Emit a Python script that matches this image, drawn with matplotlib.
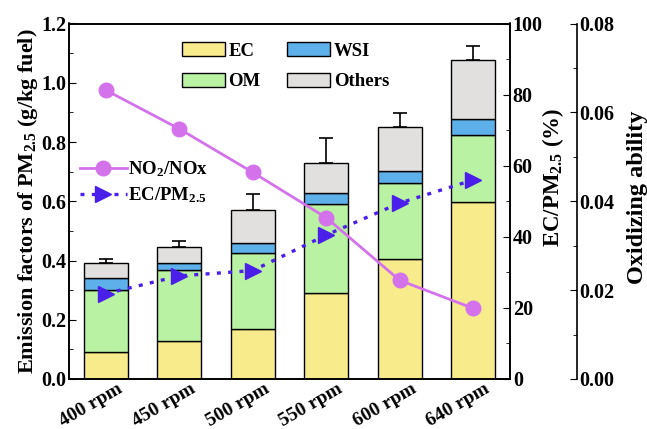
import matplotlib
matplotlib.use("Agg")
import matplotlib.pyplot as plt
import matplotlib.transforms as mtransforms
import numpy as np

# --- dados ---
categories = ["400 rpm", "450 rpm", "500 rpm", "550 rpm", "600 rpm", "640 rpm"]
ec = [0.090, 0.128, 0.170, 0.291, 0.405, 0.596]
om = [0.210, 0.239, 0.257, 0.299, 0.258, 0.228]
wsi = [0.040, 0.026, 0.033, 0.039, 0.040, 0.054]
others = [0.053, 0.052, 0.110, 0.099, 0.148, 0.198]
err = [0.012, 0.020, 0.055, 0.085, 0.046, 0.049]
ec_pm = [24.0, 29.0, 30.5, 40.5, 49.5, 56.0]          # EC/PM2.5 (%)
no2_nox = [0.0650, 0.0563, 0.0465, 0.0363, 0.0222, 0.0159]  # oxidizing ability

plt.rcParams['font.family'] = ['Liberation Serif', 'DejaVu Serif']
plt.rcParams['font.weight'] = 'bold'
plt.rcParams['axes.labelweight'] = 'bold'
plt.rcParams['mathtext.fontset'] = 'custom'
plt.rcParams['mathtext.rm'] = 'Liberation Serif:bold'
plt.rcParams['mathtext.it'] = 'Liberation Serif:bold'
plt.rcParams['mathtext.bf'] = 'Liberation Serif:bold'
fs_tick = 14.5   # rótulos dos ticks
fs_lab = 16      # rótulos dos eixos
fs_leg = 13.5    # legendas

fig = plt.figure(figsize=(6.47, 4.29), dpi=100, facecolor='white')
ax = fig.add_axes([69 / 647, 1 - 379 / 429, 441 / 647, 355.5 / 429])
x = np.arange(len(categories))
w = 0.6

c_ec, c_om, c_wsi, c_oth = '#F8EB8C', '#B9F2A2', '#5DB0EA', '#E2E0DE'
b1 = ax.bar(x, ec, w, color=c_ec, edgecolor='black', linewidth=1, label='EC')
base = np.array(ec)
b2 = ax.bar(x, om, w, bottom=base, color=c_om, edgecolor='black', linewidth=1, label='OM')
base = base + np.array(om)
b3 = ax.bar(x, wsi, w, bottom=base, color=c_wsi, edgecolor='black', linewidth=1, label='WSI')
base = base + np.array(wsi)
b4 = ax.bar(x, others, w, bottom=base, color=c_oth, edgecolor='black', linewidth=1, label='Others')
base = base + np.array(others)
ax.errorbar(x, base, yerr=[np.zeros(len(err)), err], fmt='none', ecolor='black',
            elinewidth=1.2, capsize=5, capthick=1.2)

ax.set_xlim(-0.5, 5.5)
ax.set_ylim(0, 1.2)
ax.set_yticks(np.arange(0, 1.21, 0.2))
ax.set_yticks(np.arange(0.1, 1.2, 0.2), minor=True)
ax.yaxis.set_major_formatter(matplotlib.ticker.FormatStrFormatter('%.1f'))
ax.tick_params(axis='y', which='both', direction='in', labelsize=fs_tick, pad=2)
ax.tick_params(axis='y', which='major', length=5)
ax.tick_params(axis='y', which='minor', length=3)
ax.tick_params(axis='x', length=0, pad=1)
ax.set_xticks(x)
ax.set_xticklabels(categories, rotation=30, ha='center', fontsize=14)
# desloca os rótulos inclinados para a esquerda, como no original
shift = mtransforms.ScaledTranslation(-15 / 100, 0, fig.dpi_scale_trans)
for lbl in ax.get_xticklabels():
    lbl.set_transform(lbl.get_transform() + shift)
ax.set_ylabel(r'Emission factors of PM$_{2.5}$ (g/kg fuel)', fontsize=fs_lab, labelpad=1)
for sp in ax.spines.values():
    sp.set_linewidth(1.2)

# eixo EC/PM2.5
ax2 = ax.twinx()
ax2.set_ylim(0, 100)
ax2.set_yticks(np.arange(0, 101, 20))
ax2.set_yticks(np.arange(10, 100, 20), minor=True)
ax2.tick_params(axis='y', which='both', direction='in', labelsize=fs_tick, pad=2)
ax2.tick_params(axis='y', which='major', length=5)
ax2.tick_params(axis='y', which='minor', length=3)
ax2.set_ylabel(r'EC/PM$_{2.5}$ (%)', fontsize=16.5)
ax2.yaxis.set_label_coords(1.068, 0.568)
for sp in ax2.spines.values():
    sp.set_linewidth(1.2)
l2, = ax2.plot(x, ec_pm, linestyle=(0, (1.2, 2.2)), color='#4A1FEA', linewidth=2.4,
               marker='>', markersize=12, label=r'EC/PM$_{2.5}$')

# eixo capacidade oxidante
ax3 = ax.twinx()
ax3.spines['right'].set_position(('axes', 1.151))
ax3.spines['top'].set_visible(False)
ax3.spines['bottom'].set_visible(False)
ax3.spines['left'].set_visible(False)
ax3.spines['right'].set_linewidth(1.2)
ax3.set_ylim(0, 0.08)
ax3.set_yticks(np.arange(0, 0.081, 0.02))
ax3.set_yticks(np.arange(0.01, 0.08, 0.02), minor=True)
ax3.yaxis.set_major_formatter(matplotlib.ticker.FormatStrFormatter('%.2f'))
ax3.tick_params(axis='y', which='both', direction='in', labelsize=fs_tick, pad=2)
ax3.tick_params(axis='y', which='major', length=5)
ax3.tick_params(axis='y', which='minor', length=3)
ax3.set_ylabel('Oxidizing ability', fontsize=17.5)
ax3.yaxis.set_label_coords(1.266, 0.512)
l3, = ax3.plot(x, no2_nox, color='#D472EC', linewidth=2, marker='o', markersize=10.5,
               label=r'NO$_2$/NOx')

# legendas
leg1 = ax3.legend(handles=[b1, b2, b3, b4], ncol=2, loc='upper left',
                  bbox_to_anchor=(0.217, 0.995), frameon=False, fontsize=fs_leg,
                  handlelength=2.3, handleheight=0.8, columnspacing=1.4,
                  handletextpad=0.2, labelspacing=0.68)
ax3.add_artist(leg1)
ax3.legend(handles=[l3, l2], loc='upper left', bbox_to_anchor=(-0.014, 0.665),
           frameon=False, fontsize=fs_leg, handlelength=2.5, handletextpad=0.1,
           labelspacing=0.33)

fig.savefig('out.png', dpi=100, facecolor='white')
